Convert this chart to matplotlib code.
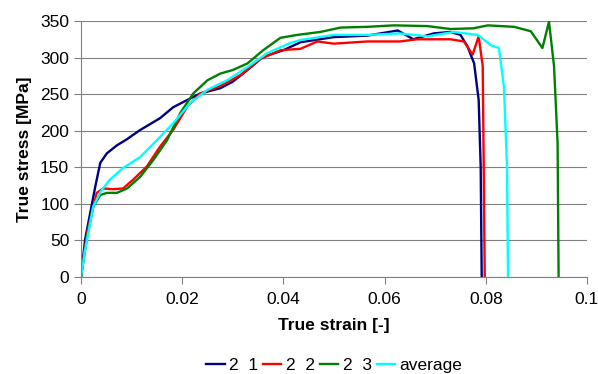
import matplotlib
matplotlib.use("Agg")
import matplotlib.pyplot as plt

plt.rcParams["font.family"] = ["Liberation Sans", "DejaVu Sans"]

# 2_1
strain_21 = [0, 0.0008, 0.0018, 0.0028, 0.0038, 0.0051, 0.0071, 0.009, 0.0117, 0.0156,
             0.0182, 0.021, 0.0236, 0.0275, 0.030, 0.0329, 0.036, 0.040, 0.0434, 0.05,
             0.0566, 0.0626, 0.0657, 0.0697, 0.073, 0.075, 0.0764, 0.0777, 0.0786, 0.079,
             0.0792]
stress_21 = [0, 51, 87, 123, 156, 169, 180, 188, 201, 217,
             232, 242, 251, 258, 267, 283, 301, 310, 321, 328,
             330, 337, 325, 333, 335, 331, 315, 292, 242, 150,
             0]

# 2_2
strain_22 = [0, 0.0012, 0.0031, 0.0044, 0.0063, 0.0083, 0.0103, 0.013, 0.0156, 0.0182,
             0.021, 0.0236, 0.0275, 0.0315, 0.0354, 0.0394, 0.0434, 0.0467, 0.05, 0.0566,
             0.063, 0.0665, 0.073, 0.0757, 0.0774, 0.0786, 0.0794, 0.0796, 0.0798]
stress_22 = [0, 60, 115, 121, 120, 121, 133, 151, 178, 201,
             233, 251, 261, 276, 298, 310, 312, 322, 319, 322,
             322, 325, 325, 322, 304, 329, 288, 150, 0]

# 2_3
strain_23 = [0, 0.0012, 0.0024, 0.0038, 0.0051, 0.0071, 0.0091, 0.0117, 0.0143, 0.017,
             0.0196, 0.0222, 0.025, 0.0275, 0.030, 0.0329, 0.036, 0.0394, 0.0428, 0.0473,
             0.0513, 0.0566, 0.0618, 0.0685, 0.073, 0.0776, 0.0804, 0.0856, 0.0889, 0.0912,
             0.0925, 0.0935, 0.0942, 0.0944]
stress_23 = [0, 55, 96, 112, 115, 115, 121, 137, 160, 187,
             224, 251, 269, 278, 283, 292, 310, 327, 331, 335,
             341, 342, 344, 343, 339, 340, 344, 342, 336, 313,
             349, 288, 183, 0]

# average
strain_avg = [0, 0.0008, 0.0024, 0.0038, 0.0057, 0.0083, 0.0117, 0.015, 0.0182, 0.0216,
              0.025, 0.0289, 0.0329, 0.0368, 0.0414, 0.0434, 0.05, 0.0566, 0.063, 0.0685,
              0.0737, 0.0784, 0.081, 0.0826, 0.0836, 0.0842, 0.0844]
stress_avg = [0, 37, 96, 116, 133, 149, 164, 187, 210, 238,
              256, 269, 287, 306, 320, 324, 331, 331, 333, 329,
              335, 331, 317, 313, 260, 150, 0]

series = [
    (strain_21, stress_21, "#000080", "2  1"),
    (strain_22, stress_22, "#ff0000", "2  2"),
    (strain_23, stress_23, "#008000", "2  3"),
    (strain_avg, stress_avg, "#00ffff", "average"),
]

FS = 12.5

fig = plt.figure(figsize=(5.98, 3.74), dpi=100)
ax = fig.add_axes([0.1355, 0.2594, 0.846, 0.6845])

for x, y, c, lab in series:
    ax.plot(x, y, color=c, lw=1.7, label=lab, solid_joinstyle="round")

ax.set_xlim(0, 0.1)
ax.set_ylim(0, 350)
ax.set_xticks([0, 0.02, 0.04, 0.06, 0.08, 0.1])
ax.set_xticklabels(["0", "0.02", "0.04", "0.06", "0.08", "0.1"])
ax.set_yticks(range(0, 351, 50))
ax.yaxis.grid(True, color="#808080", lw=0.8)
ax.set_axisbelow(True)
for s in ["top", "right"]:
    ax.spines[s].set_visible(False)
for s in ["left", "bottom"]:
    ax.spines[s].set_color("#808080")
ax.tick_params(colors="#808080", labelcolor="black", labelsize=FS, length=5)
ax.tick_params(axis="x", pad=6)

ax.set_xlabel("True strain [-]", fontsize=FS, fontweight="bold", labelpad=8)
ax.set_ylabel("True stress [MPa]", fontsize=FS, fontweight="bold", labelpad=6)

fig.legend(loc="center", bbox_to_anchor=(0.559, 0.022), ncol=4, frameon=False,
           fontsize=FS, handlelength=1.05, handletextpad=0.25, columnspacing=0.3)

fig.savefig("out.png", dpi=100)
